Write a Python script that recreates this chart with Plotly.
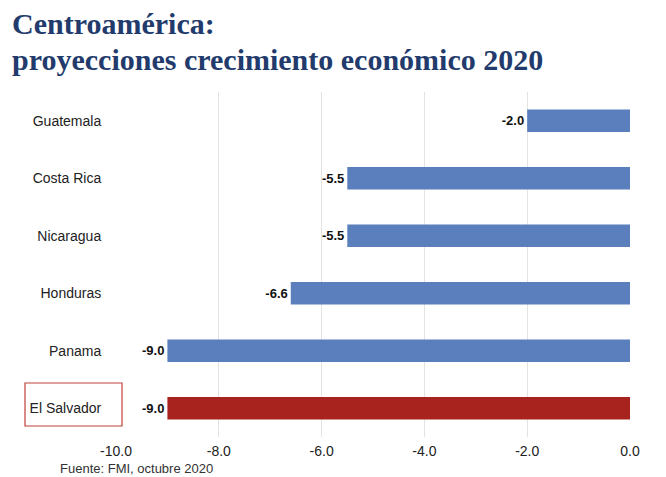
import plotly.graph_objects as go

countries = ["Guatemala", "Costa Rica", "Nicaragua", "Honduras", "Panama", "El Salvador"]
values = [-2.0, -5.5, -5.5, -6.6, -9.0, -9.0]
colors = ["#5B7FBD", "#5B7FBD", "#5B7FBD", "#5B7FBD", "#5B7FBD", "#A8231E"]
x_ticks = [-10, -8, -6, -4, -2, 0]
x_tick_labels = ["-10.0", "-8.0", "-6.0", "-4.0", "-2.0", "0.0"]

fig = go.Figure()
fig.add_trace(go.Bar(
    y=countries, x=values, orientation="h",
    marker=dict(color=colors, line=dict(width=0)),
    text=[f"{v:.1f}" for v in values],
    textposition="outside",
    textfont=dict(family="Liberation Sans, Arial", size=13, color="#111111"),
    texttemplate="<b>%{text}</b>",
    cliponaxis=False,
))

fig.update_layout(
    width=666, height=477,
    margin=dict(l=116, r=36, t=92, b=40),
    paper_bgcolor="white", plot_bgcolor="white",
    bargap=0.61,
    showlegend=False,
    font=dict(family="Liberation Sans, Arial", color="#222222"),
    xaxis=dict(
        range=[-10, 0], tickvals=x_ticks, ticktext=x_tick_labels,
        showgrid=True, gridcolor="#E3E3E3", gridwidth=1,
        zeroline=False, showline=False,
        tickfont=dict(size=14, color="#222222"), ticks="", ticklabelstandoff=4,
    ),
    yaxis=dict(
        categoryorder="array", categoryarray=countries, autorange="reversed",
        showgrid=False, zeroline=False, showline=False,
        tickfont=dict(size=14, color="#222222"), ticks="outside", ticklen=11, tickcolor="rgba(0,0,0,0)",
    ),
    annotations=[
        dict(text="<b>Centroamérica:</b>", xref="paper", yref="paper", x=-0.206, y=1.0 + 69/345,
             xanchor="left", yanchor="middle", showarrow=False,
             font=dict(family="Liberation Serif, Times New Roman", size=30, color="#223B6C")),
        dict(text="<b>proyecciones crecimiento económico 2020</b>", xref="paper", yref="paper",
             x=-0.206, y=1.0 + 33/345,
             xanchor="left", yanchor="middle", showarrow=False,
             font=dict(family="Liberation Serif, Times New Roman", size=30, color="#223B6C")),
        dict(text="Fuente: FMI, octubre 2020", xref="paper", yref="paper",
             x=-0.113, y=-31/345, xanchor="left", yanchor="middle", showarrow=False,
             font=dict(family="Liberation Sans, Arial", size=13, color="#333333")),
    ],
    shapes=[
        dict(type="rect", xref="paper", yref="paper",
             x0=(25 - 116) / 514, x1=(122 - 116) / 514,
             y0=(437 - 426) / 345, y1=(437 - 383) / 345,
             line=dict(color="#C0403A", width=1.2), fillcolor="rgba(0,0,0,0)"),
    ],
)

fig.write_html("out.html")
